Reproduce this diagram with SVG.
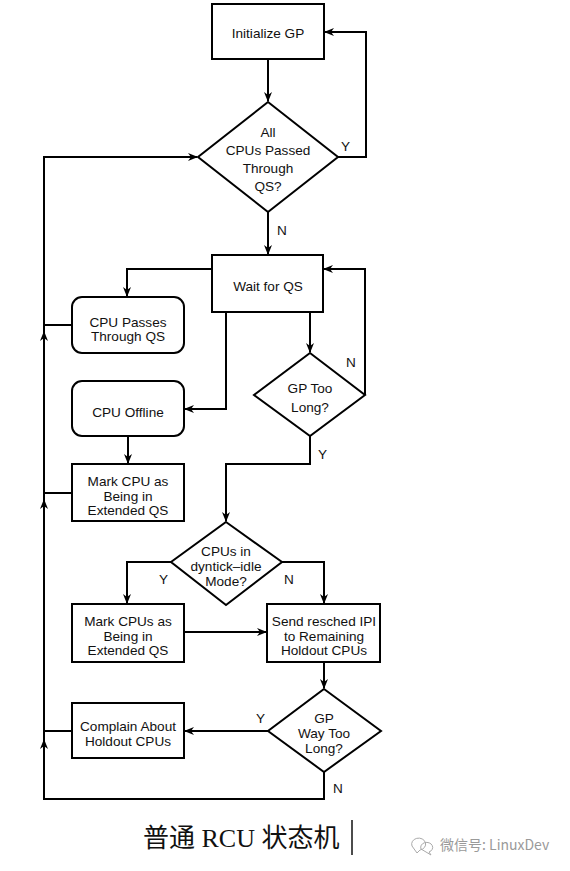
<svg xmlns="http://www.w3.org/2000/svg" width="570" height="871" viewBox="0 0 570 871">
<style>
.box{fill:#fff;stroke:#000;stroke-width:2}
.t{font-family:"Liberation Sans",Arial,sans-serif;font-size:13.6px;fill:#111;text-anchor:middle}
.c{fill:none;stroke:#000;stroke-width:2}
.lbl{font-family:"Liberation Sans",Arial,sans-serif;font-size:13.6px;fill:#111}
.cap{font-family:"Liberation Serif","Noto Sans CJK SC",serif;font-size:26px;fill:#111}
.wm{font-family:"Noto Sans CJK SC","Liberation Sans",sans-serif;font-size:14px;fill:#9a9a9a}
</style>
<defs>
<marker id="ah" viewBox="0 0 10 8" refX="9" refY="4" markerWidth="10" markerHeight="8" markerUnits="userSpaceOnUse" orient="auto">
<path d="M0,0 L10,4 L0,8 L3,4 z" fill="#000"/>
</marker>
</defs>
<rect width="570" height="871" fill="#fff"/>
<g id="connectors">
<path class="c" d="M268,60 V101" marker-end="url(#ah)"/>
<path class="c" d="M338,157 H366 V32 H325" marker-end="url(#ah)"/>
<path class="c" d="M268,212 V254" marker-end="url(#ah)"/>
<path class="c" d="M212,269 H127 V296" marker-end="url(#ah)"/>
<path class="c" d="M72,325 H44"/>
<path class="c" d="M226,312 V409 H185" marker-end="url(#ah)"/>
<path class="c" d="M128,436 V463" marker-end="url(#ah)"/>
<path class="c" d="M72,493 H44"/>
<path class="c" d="M310,312 V352" marker-end="url(#ah)"/>
<path class="c" d="M365,395 V269 H324" marker-end="url(#ah)"/>
<path class="c" d="M310,436 V464 H226 V521" marker-end="url(#ah)"/>
<path class="c" d="M171,562 H127 V603" marker-end="url(#ah)"/>
<path class="c" d="M282,562 H324 V603" marker-end="url(#ah)"/>
<path class="c" d="M184,632 H266" marker-end="url(#ah)"/>
<path class="c" d="M324,662 V688" marker-end="url(#ah)"/>
<path class="c" d="M268,731 H185" marker-end="url(#ah)"/>
<path class="c" d="M72,731 H44"/>
<path class="c" d="M324,772 V799 H44 V157 H197" marker-end="url(#ah)"/>
<path class="c" d="M44,752 V740" marker-end="url(#ah)"/>
<path class="c" d="M44,512 V500" marker-end="url(#ah)"/>
<path class="c" d="M44,344 V332" marker-end="url(#ah)"/>
<text class="lbl" x="341" y="151">Y</text>
<text class="lbl" x="277" y="235">N</text>
<text class="lbl" x="346" y="367">N</text>
<text class="lbl" x="318" y="459">Y</text>
<text class="lbl" x="159" y="584">Y</text>
<text class="lbl" x="284" y="584">N</text>
<text class="lbl" x="256" y="723">Y</text>
<text class="lbl" x="333" y="793">N</text>
</g>
<g id="initialize">
<rect class="box" x="212" y="4" width="112" height="55"/>
<text class="t" x="268" y="38">Initialize GP</text>
</g>
<g id="all-passed">
<polygon class="box" points="268,102 338,157 268,212 198,157"/>
<text class="t" x="268" y="137">All</text>
<text class="t" x="268" y="155">CPUs Passed</text>
<text class="t" x="268" y="173">Through</text>
<text class="t" x="268" y="191">QS?</text>
</g>
<g id="wait">
<rect class="box" x="212" y="255" width="111" height="57"/>
<text class="t" x="268" y="291">Wait for QS</text>
</g>
<g id="cpu-passes">
<rect class="box" x="72" y="297" width="112" height="56" rx="10"/>
<text class="t" x="128" y="327">CPU Passes</text>
<text class="t" x="128" y="341">Through QS</text>
</g>
<g id="cpu-offline">
<rect class="box" x="72" y="381" width="112" height="55" rx="10"/>
<text class="t" x="128" y="417">CPU Offline</text>
</g>
<g id="mark-cpu">
<rect class="box" x="72" y="464" width="112" height="57"/>
<text class="t" x="128" y="486">Mark CPU as</text>
<text class="t" x="128" y="501">Being in</text>
<text class="t" x="128" y="515">Extended QS</text>
</g>
<g id="gp-too-long">
<polygon class="box" points="310,353 365,395 310,436 254,395"/>
<text class="t" x="310" y="393">GP Too</text>
<text class="t" x="310" y="412">Long?</text>
</g>
<g id="dyntick">
<polygon class="box" points="226,522 282,562 226,605 171,562"/>
<text class="t" x="226" y="556">CPUs in</text>
<text class="t" x="226" y="571">dyntick–idle</text>
<text class="t" x="226" y="586">Mode?</text>
</g>
<g id="mark-cpus">
<rect class="box" x="72" y="604" width="112" height="58"/>
<text class="t" x="128" y="626">Mark CPUs as</text>
<text class="t" x="128" y="641">Being in</text>
<text class="t" x="128" y="655">Extended QS</text>
</g>
<g id="send-ipi">
<rect class="box" x="267" y="604" width="113" height="58"/>
<text class="t" x="324" y="626">Send resched IPI</text>
<text class="t" x="324" y="641">to Remaining</text>
<text class="t" x="324" y="655">Holdout CPUs</text>
</g>
<g id="gp-way-too-long">
<polygon class="box" points="324,689 381,731 324,772 268,731"/>
<text class="t" x="324" y="723">GP</text>
<text class="t" x="324" y="738">Way Too</text>
<text class="t" x="324" y="753">Long?</text>
</g>
<g id="complain">
<rect class="box" x="72" y="703" width="112" height="55"/>
<text class="t" x="128" y="731">Complain About</text>
<text class="t" x="128" y="746">Holdout CPUs</text>
</g>
<g id="caption">
<text class="cap" x="143" y="847">普通 RCU 状态机</text>
<line x1="352" y1="820" x2="352" y2="855" stroke="#111" stroke-width="1.5"/>
<g fill="none" stroke="#aaa" stroke-width="1">
<path d="M412,846 a7,6 0 1 1 8,4 l-3,3 z"/>
<path d="M421,849 a6,5 0 1 1 8,3 l2,3 z"/>
</g>
<text class="wm" x="440" y="850">微信号: LinuxDev</text>
</g>
</svg>
